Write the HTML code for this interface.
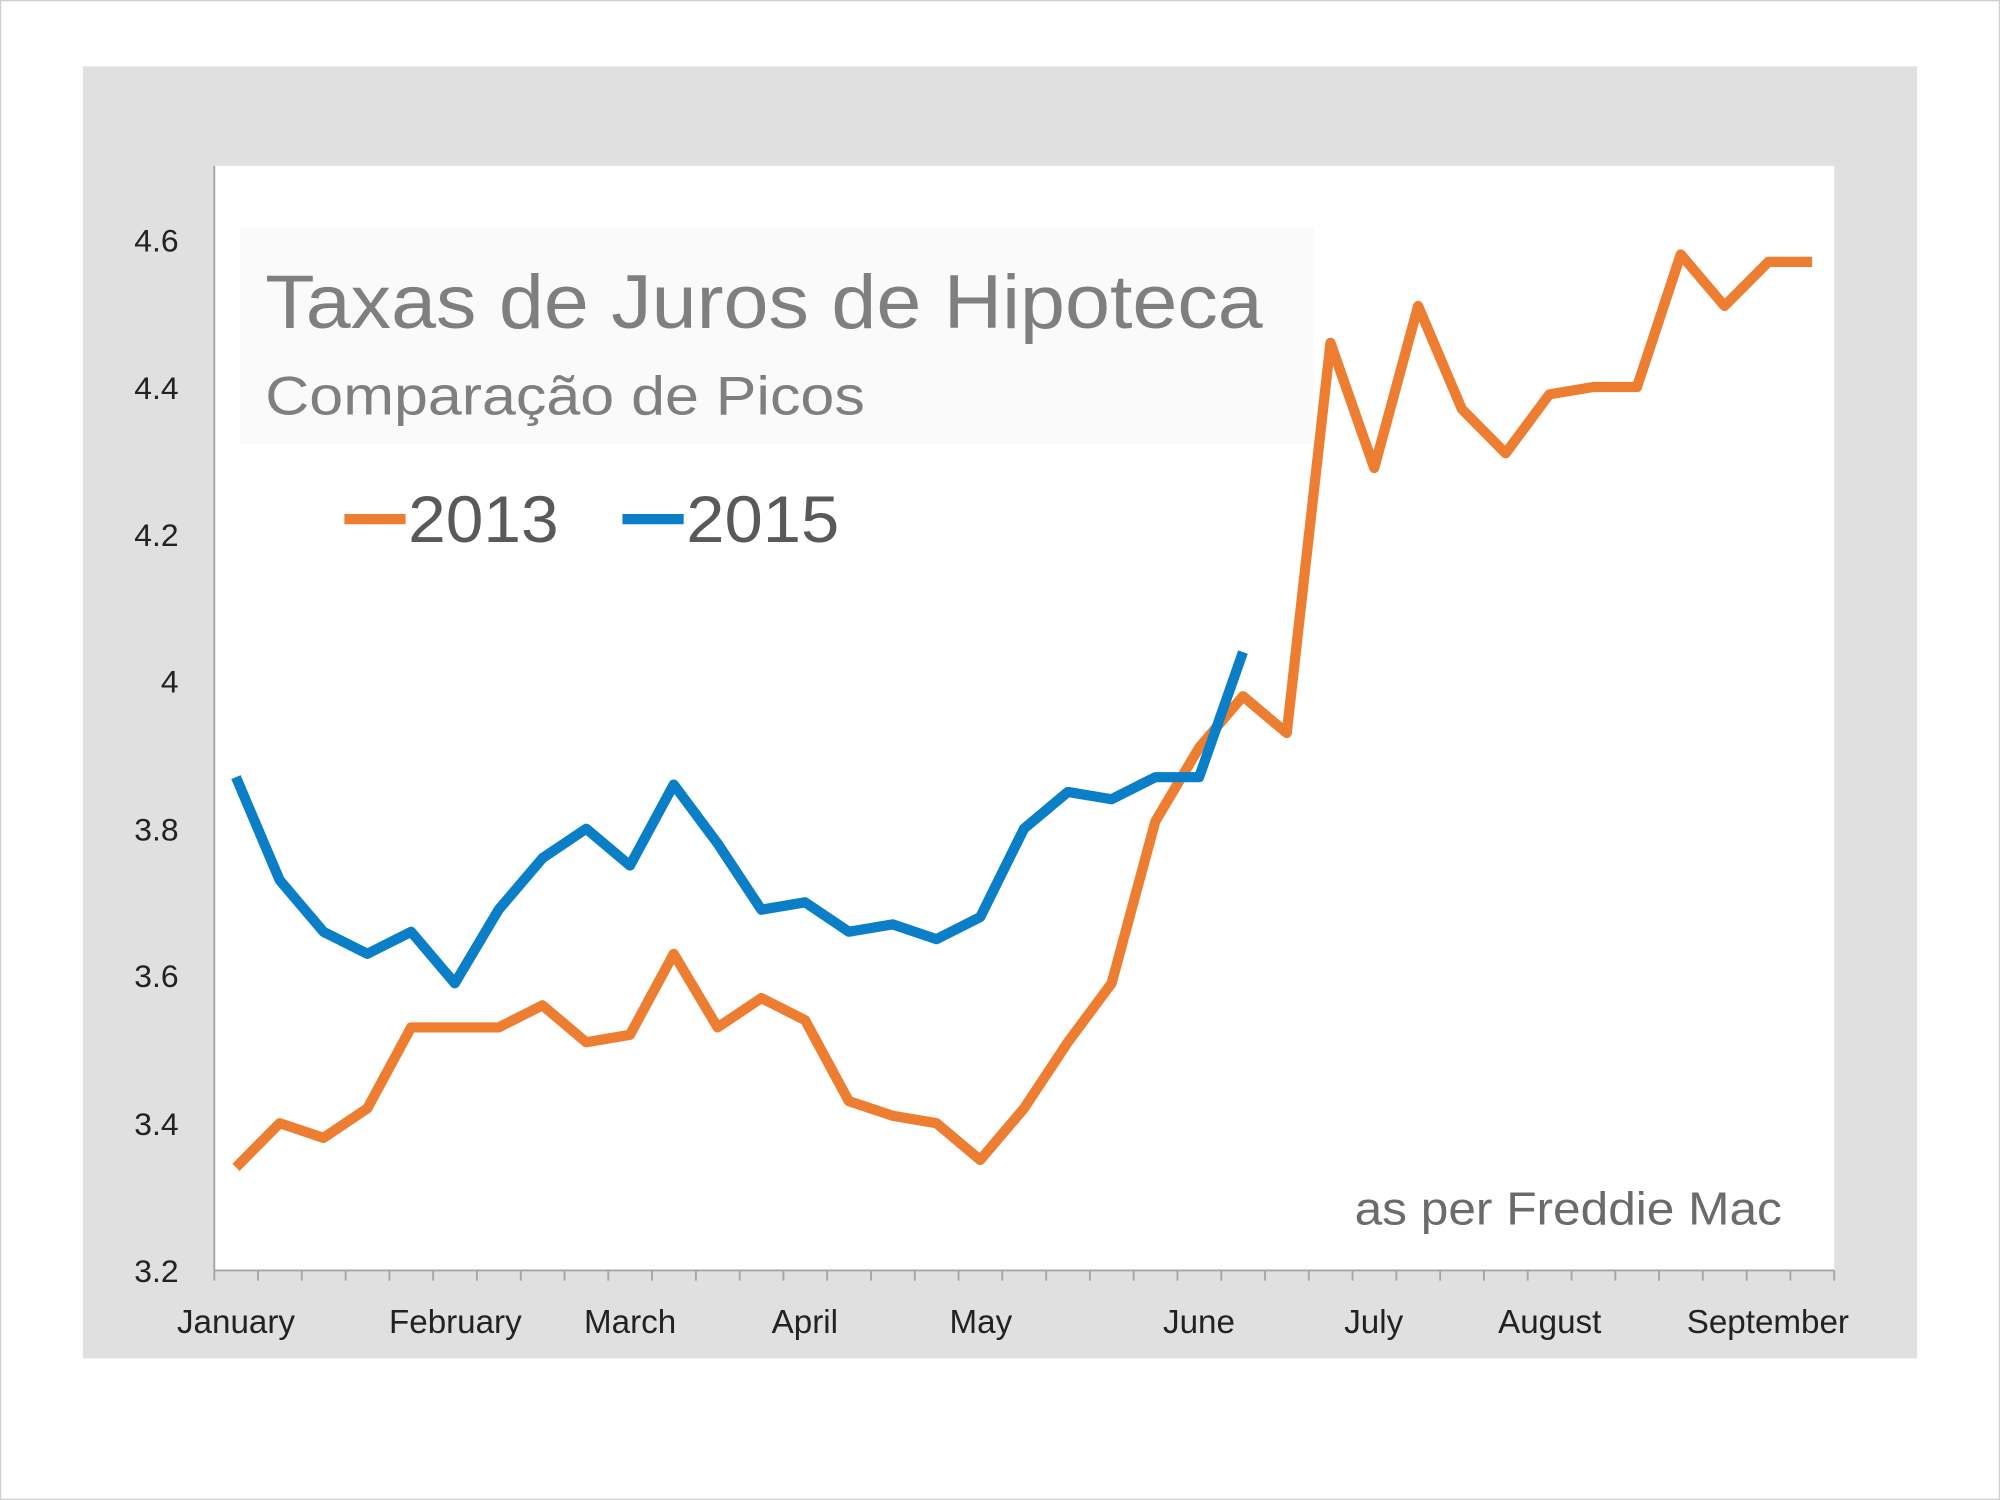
<!DOCTYPE html>
<html><head><meta charset="utf-8"><style>
html,body{margin:0;padding:0;background:#fff;}
svg{display:block;}
text{font-family:"Liberation Sans","DejaVu Sans",sans-serif;}
</style></head><body>
<svg width="2000" height="1500" viewBox="0 0 1568 1176" xmlns="http://www.w3.org/2000/svg">
<rect x="0.5" y="0.5" width="1567" height="1175" fill="#fff" stroke="#d0d0d0"/>
<rect x="65" y="52" width="1438" height="1013" fill="#e0e0e0"/>
<rect x="168" y="130" width="1270" height="866" fill="#fff"/>
<rect x="188" y="178" width="842" height="170" fill="#fafafa"/>
<g stroke="#a6a6a6" stroke-width="1.5">
<line x1="168" y1="130" x2="168" y2="996"/>
<line x1="168" y1="996" x2="1438" y2="996"/>
</g>
<g id="ticks" stroke="#a6a6a6" stroke-width="1.5"></g>
<g font-size="25" fill="#222" text-anchor="end">
<text x="140" y="1005">3.2</text>
<text x="140" y="890">3.4</text>
<text x="140" y="774">3.6</text>
<text x="140" y="659">3.8</text>
<text x="140" y="543">4</text>
<text x="140" y="428">4.2</text>
<text x="140" y="313">4.4</text>
<text x="140" y="197">4.6</text>
</g>
<g font-size="26" fill="#222" text-anchor="middle">
<text x="185" y="1045">January</text>
<text x="357" y="1045">February</text>
<text x="494" y="1045">March</text>
<text x="631" y="1045">April</text>
<text x="769" y="1045">May</text>
<text x="940" y="1045">June</text>
<text x="1077" y="1045">July</text>
<text x="1215" y="1045">August</text>
<text x="1386" y="1045">September</text>
</g>
<text x="208" y="257" font-size="60" fill="#7f7f7f" textLength="782" lengthAdjust="spacingAndGlyphs">Taxas de Juros de Hipoteca</text>
<text x="208" y="325" font-size="43" fill="#7f7f7f" textLength="470" lengthAdjust="spacingAndGlyphs">Comparação de Picos</text>
<line x1="270" y1="407" x2="318" y2="407" stroke="#ED7D31" stroke-width="8"/>
<text x="320" y="425" font-size="52" fill="#595959" textLength="118" lengthAdjust="spacingAndGlyphs">2013</text>
<line x1="488" y1="407" x2="536" y2="407" stroke="#0A7FC8" stroke-width="8"/>
<text x="538" y="425" font-size="52" fill="#595959" textLength="120" lengthAdjust="spacingAndGlyphs">2015</text>
<text x="1062" y="960" font-size="36" fill="#6b6b6b" textLength="335" lengthAdjust="spacingAndGlyphs">as per Freddie Mac</text>
<polyline id="s13" fill="none" stroke="#ED7D31" stroke-width="8" stroke-linejoin="round"/>
<polyline id="s15" fill="none" stroke="#0A7FC8" stroke-width="8" stroke-linejoin="round"/>
</svg>
<script>
var a=[3.34,3.40,3.38,3.42,3.53,3.53,3.53,3.56,3.51,3.52,3.63,3.53,3.57,3.54,3.43,3.41,3.40,3.35,3.42,3.51,3.59,3.81,3.91,3.98,3.93,4.46,4.29,4.51,4.37,4.31,4.39,4.40,4.40,4.58,4.51,4.57,4.57];
var b=[3.87,3.73,3.66,3.63,3.66,3.59,3.69,3.76,3.80,3.75,3.86,3.78,3.69,3.70,3.66,3.67,3.65,3.68,3.80,3.85,3.84,3.87,3.87,4.04];
var st=1270/37;
function p(d){return d.map(function(v,i){return (185+st*i).toFixed(1)+","+(996-(v-3.2)/0.2*115.43).toFixed(1)}).join(" ");}
document.getElementById("s13").setAttribute("points",p(a));
document.getElementById("s15").setAttribute("points",p(b));
var g=document.getElementById("ticks"),s="";
for(var k=0;k<=37;k++){var x=(168+st*k).toFixed(1);s+='<line x1="'+x+'" y1="996" x2="'+x+'" y2="1004"/>';}
g.innerHTML=s;
</script>
</body></html>
